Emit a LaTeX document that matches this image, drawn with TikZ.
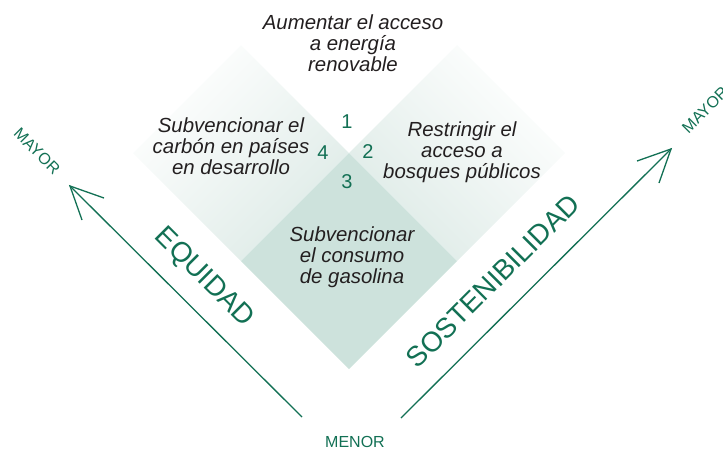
\documentclass[tikz,border=0pt]{standalone}
\usepackage{fontspec}
\setmainfont{Liberation Sans}
\definecolor{grn}{RGB}{18,112,84}
\definecolor{ink}{RGB}{35,31,32}
\definecolor{dmdark}{RGB}{205,226,220}
\definecolor{dmlight}{RGB}{222,235,231}
\tikzset{
  desc/.style={font=\fontsize{20.4}{21}\selectfont\itshape, text=ink, align=center, inner sep=0pt},
  num/.style={font=\fontsize{20}{20}\selectfont, text=grn, inner sep=0pt},
  axislabel/.style={font=\fontsize{28}{28}\selectfont, text=grn, inner sep=0pt},
  endlabel/.style={font=\fontsize{16}{16}\selectfont, text=grn, inner sep=0pt},
  axisline/.style={draw=grn, line width=1.3pt, line join=miter},
}
\begin{document}
\begin{tikzpicture}[x=1pt,y=-1pt]
\useasboundingbox (0,0) rectangle (723,448);
% diamonds
\shade[top color=white, bottom color=dmlight, shading angle=45]
  (133,153) -- (241,45) -- (349,153) -- (241,261) -- cycle;
\shade[top color=white, bottom color=dmlight, shading angle=-45]
  (349,153) -- (457,45) -- (565,153) -- (457,261) -- cycle;
\fill[dmdark] (241,261) -- (349,153) -- (457,261) -- (349,369) -- cycle;
% axes
\coordinate (Lstart) at (302,417);
\coordinate (Ltip) at (70,186);
\coordinate (Rstart) at (401,418);
\coordinate (Rtip) at (671,149);
\draw[axisline] (Lstart) -- (Ltip);
\draw[axisline] (Ltip) ++(34,12) -- (Ltip) -- ++(12,34);
\draw[axisline] (Rstart) -- (Rtip);
\draw[axisline] (Rtip) ++(-34,12) -- (Rtip) -- ++(-12,34);
% texts
\node[desc] (top) at (353,43) {Aumentar el acceso\\a energía\\renovable};
\node[desc] (left) at (231,146) {Subvencionar el\\carbón en países\\en desarrollo};
\node[desc] (right) at (462,152) {Restringir el\\acceso a\\bosques públicos};
\node[desc] (bottom) at (352,257) {Subvencionar\\el consumo\\de gasolina};
\node[num] (n1) at (347,122) {1};
\node[num] (n2) at (368,152) {2};
\node[num] (n3) at (347,182) {3};
\node[num] (n4) at (323,153) {4};
\node[axislabel, rotate=-45] (equidad) at (204,278) {EQUIDAD};
\node[axislabel, rotate=45] (sost) at (493,281) {SOSTENIBILIDAD};
\node[endlabel, rotate=-45] (mayorL) at (37,151) {MAYOR};
\node[endlabel, rotate=45] (mayorR) at (705,110) {MAYOR};
\node[endlabel, anchor=base] (menor) at (355,447) {MENOR};
\end{tikzpicture}
\end{document}
